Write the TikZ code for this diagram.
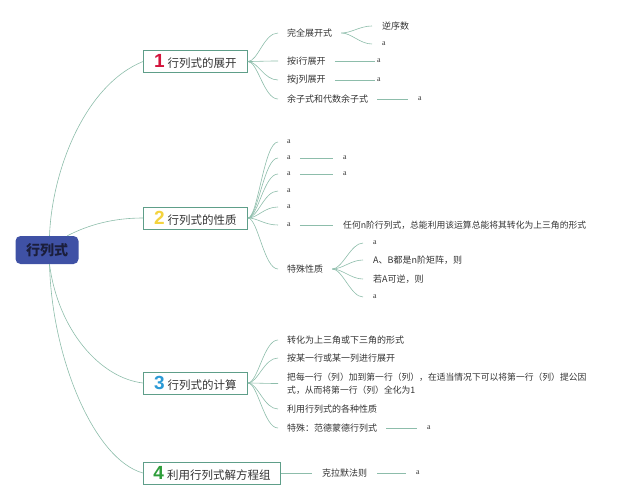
\documentclass[tikz,border=0pt]{standalone}
\usepackage{fontspec}
\setmainfont{Liberation Serif}
\newfontfamily\cjk{Noto Sans CJK SC}
\newfontfamily\numfont{Liberation Sans}
\usepackage{tikz}
\usetikzlibrary{positioning}
\definecolor{rootblue}{HTML}{3F51A5}
\definecolor{roottext}{HTML}{1B1E3C}
\definecolor{boxgreen}{HTML}{5E9E89}
\definecolor{linegreen}{HTML}{8DBDAB}
\definecolor{textgray}{HTML}{333333}
\definecolor{numred}{HTML}{D3143C}
\definecolor{numyellow}{HTML}{F4D33E}
\definecolor{numblue}{HTML}{2B9AD6}
\definecolor{numgreen}{HTML}{2F9E3B}
\newcommand{\bnum}[2]{{\numfont\bfseries\fontsize{19}{19}\selectfont\color{#1}#2}\hspace{3pt}}
\tikzset{
  root/.style={
    fill=rootblue, rounded corners=5pt, minimum width=63pt, minimum height=28pt,
    text=roottext, font=\cjk\bfseries\fontsize{14}{16}\selectfont
  },
  branch/.style={
    draw=boxgreen, line width=0.9pt, fill=white, anchor=west,
    minimum width=104pt, minimum height=22pt, inner xsep=10pt, inner ysep=0pt,
    text=textgray, font=\cjk\fontsize{11.5}{13}\selectfont
  },
  topic/.style={
    anchor=west, inner xsep=9pt, inner ysep=1pt, align=left,
    text=textgray, font=\cjk\fontsize{9}{13}\selectfont
  },
  atopic/.style={topic, font=\fontsize{8}{10}\selectfont},
  leaf/.style={
    anchor=west, inner xsep=10pt, inner ysep=1pt,
    text=textgray, font=\fontsize{8}{10}\selectfont
  },
  leaftext/.style={leaf, font=\cjk\fontsize{9}{11}\selectfont},
  conn/.style={draw=linegreen, line width=0.6pt}
}

\begin{document}
\begin{tikzpicture}[x=1pt, y=-1pt]
\useasboundingbox (0,0) rectangle (640,500);

\node[root] (root) at (47,250) {行列式};

\node[branch] (b1) at (143,61.5) {\bnum{numred}{1}行列式的展开};
\node[branch] (b2) at (143,218) {\bnum{numyellow}{2}行列式的性质};
\node[branch] (b3) at (143,383) {\bnum{numblue}{3}行列式的计算};
\node[branch] (b4) at (143,473) {\bnum{numgreen}{4}利用行列式解方程组};

\draw[conn] (root.80) .. controls (52,170) and (85,85) .. (b1.west);
\draw[conn] (root.35) .. controls (90,224) and (115,218) .. (b2.west);
\draw[conn] (root.-80) .. controls (58,330) and (100,378) .. (b3.west);
\draw[conn] (root.-80) .. controls (52,360) and (95,460) .. (b4.west);

% 1
\node[topic] (c11) at (278,33) {完全展开式};
\node[topic] (c12) at (278,61) {按i行展开};
\node[topic] (c13) at (278,80) {按j列展开};
\node[topic] (c14) at (278,99) {余子式和代数余子式};
\foreach \t in {c11,c12,c13,c14}
  \draw[conn] (b1.east) .. controls +(10,0) and +(-14,0) .. (\t.west);

\node[leaftext] (g111) at (372,26) {逆序数};
\node[leaf] (g112) at (372,44) {a};
\foreach \t in {g111,g112}
  \draw[conn] (c11.east) .. controls +(10,0) and +(-12,0) .. (\t.west);
\node[leaf, inner xsep=2pt] (g121) at (375,61) {a};
\node[leaf, inner xsep=2pt] (g131) at (375,80) {a};
\node[leaf] (g141) at (408,99) {a};
\draw[conn] (c12.east) -- (g121.west);
\draw[conn] (c13.east) -- (g131.west);
\draw[conn] (c14.east) -- (g141.west);

% 2
\node[atopic] (c21) at (278,142) {a};
\node[atopic] (c22) at (278,158) {a};
\node[atopic] (c23) at (278,174) {a};
\node[atopic] (c24) at (278,191) {a};
\node[atopic] (c25) at (278,207) {a};
\node[atopic] (c26) at (278,225) {a};
\node[topic] (c27) at (278,269) {特殊性质};
\foreach \t in {c21,c22,c23,c24,c25,c26,c27}
  \draw[conn] (b2.east) .. controls +(10,0) and +(-14,0) .. (\t.west);

\node[leaf] (g221) at (333,158) {a};
\node[leaf] (g231) at (333,174) {a};
\node[leaftext, font=\cjk\fontsize{8.8}{11}\selectfont] (g261) at (333,225) {任何n阶行列式，总能利用该运算总能将其转化为上三角的形式};
\draw[conn] (c22.east) -- (g221.west);
\draw[conn] (c23.east) -- (g231.west);
\draw[conn] (c26.east) -- (g261.west);

\node[leaf] (g271) at (363,243) {a};
\node[leaftext] (g272) at (363,260) {A、B都是n阶矩阵，则};
\node[leaftext] (g273) at (363,279) {若A可逆，则};
\node[leaf] (g274) at (363,297) {a};
\foreach \t in {g271,g272,g273,g274}
  \draw[conn] (c27.east) .. controls +(10,0) and +(-12,0) .. (\t.west);

% 3
\node[topic] (c31) at (278,340) {转化为上三角或下三角的形式};
\node[topic] (c32) at (278,358) {按某一行或某一列进行展开};
\node[topic, font=\cjk\fontsize{8.8}{13}\selectfont] (c33) at (278,383.5) {把每一行（列）加到第一行（列），在适当情况下可以将第一行（列）提公因\\式，从而将第一行（列）全化为1};
\node[topic] (c34) at (278,409) {利用行列式的各种性质};
\node[topic] (c35) at (278,428) {特殊：范德蒙德行列式};
\foreach \t in {c31,c32,c33,c34,c35}
  \draw[conn] (b3.east) .. controls +(10,0) and +(-14,0) .. (\t.west);

\node[leaf] (g351) at (417,428) {a};
\draw[conn] (c35.east) -- (g351.west);

% 4
\node[topic, inner xsep=10pt] (c41) at (312,473) {克拉默法则};
\node[leaf] (g411) at (406,473) {a};
\draw[conn] (b4.east) -- (c41.west);
\draw[conn] (c41.east) -- (g411.west);
\end{tikzpicture}
\end{document}
